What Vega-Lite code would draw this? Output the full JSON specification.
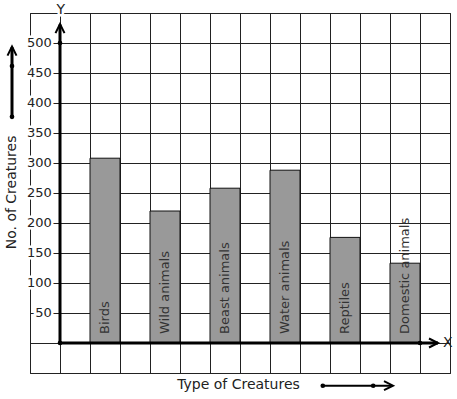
{
  "$schema": "https://vega.github.io/schema/vega-lite/v6.json",
  "width": 420,
  "height": 360,
  "autosize": {"type": "none"},
  "padding": {"left": 30, "top": 13, "right": 7, "bottom": 26},
  "background": "white",
  "config": {
    "view": {"stroke": "#222", "strokeWidth": 1},
    "font": "DejaVu Sans",
    "text": {"font": "DejaVu Sans"}
  },
  "datasets": {
    "creatures": [
      {"creature": "Birds", "count": 308},
      {"creature": "Wild animals", "count": 220},
      {"creature": "Beast animals", "count": 258},
      {"creature": "Water animals", "count": 288},
      {"creature": "Reptiles", "count": 176},
      {"creature": "Domestic animals", "count": 133}
    ],
    "ticks": [
      {"tick": 50}, {"tick": 100}, {"tick": 150}, {"tick": 200}, {"tick": 250},
      {"tick": 300}, {"tick": 350}, {"tick": 400}, {"tick": 450}, {"tick": 500}
    ],
    "one": [{}]
  },
  "layer": [
    {
      "data": {"name": "creatures"},
      "transform": [
        {"window": [{"op": "row_number", "as": "idx"}]},
        {"calculate": "2*datum.idx-1", "as": "xs"},
        {"calculate": "2*datum.idx", "as": "xe"}
      ],
      "mark": {"type": "bar", "fill": "#999999", "stroke": "#111", "strokeWidth": 1},
      "encoding": {
        "x": {
          "field": "xs", "type": "quantitative",
          "scale": {"domain": [-1, 13], "nice": false, "zero": false},
          "axis": {"values": [-1,0,1,2,3,4,5,6,7,8,9,10,11,12,13], "tickCount": 40, "grid": true, "gridColor": "#222", "gridOpacity": 1, "domain": false, "ticks": false, "labels": false, "title": null}
        },
        "x2": {"field": "xe"},
        "y": {
          "field": "count", "type": "quantitative",
          "scale": {"domain": [-50, 550], "nice": false, "zero": false},
          "axis": {"values": [-50,0,50,100,150,200,250,300,350,400,450,500,550], "tickCount": 40, "grid": true, "gridColor": "#222", "gridOpacity": 1, "domain": false, "ticks": false, "labels": false, "title": null}
        },
        "y2": {"datum": 0}
      }
    },
    {
      "data": {"name": "creatures"},
      "transform": [
        {"window": [{"op": "row_number", "as": "idx"}]},
        {"calculate": "2*datum.idx-0.5", "as": "xc"}
      ],
      "mark": {"type": "text", "angle": 270, "align": "left", "baseline": "middle", "fontSize": 13, "color": "#333"},
      "encoding": {
        "x": {"field": "xc", "type": "quantitative"},
        "y": {"datum": 15},
        "text": {"field": "creature"}
      }
    },
    {
      "data": {"name": "one"},
      "mark": {"type": "rule", "color": "black", "strokeWidth": 3},
      "encoding": {"x": {"datum": 0}, "y": {"datum": 0}, "y2": {"datum": 531}}
    },
    {
      "data": {"name": "one"},
      "mark": {"type": "rule", "color": "black", "strokeWidth": 3},
      "encoding": {"x": {"datum": 0}, "x2": {"datum": 12.6}, "y": {"datum": 0}}
    },
    {
      "data": {"name": "one"},
      "mark": {"type": "rule", "color": "black", "strokeWidth": 3},
      "encoding": {"x": {"datum": -1.6}, "y": {"datum": 377}, "y2": {"datum": 493}}
    },
    {
      "data": {"name": "one"},
      "mark": {"type": "rule", "color": "black", "strokeWidth": 2},
      "encoding": {"x": {"datum": 8.76}, "x2": {"datum": 11.05}, "y": {"datum": -71.2}}
    },
    {
      "data": {"name": "one"},
      "mark": {"type": "point", "shape": "M-1,2L0,0L1,2", "size": 81, "filled": false, "color": "black", "strokeWidth": 2, "opacity": 1},
      "encoding": {"x": {"datum": 0}, "y": {"datum": 531.5}}
    },
    {
      "data": {"name": "one"},
      "mark": {"type": "point", "shape": "M-1,2L0,0L1,2", "size": 81, "filled": false, "color": "black", "strokeWidth": 2, "opacity": 1},
      "encoding": {"x": {"datum": -1.6}, "y": {"datum": 494}}
    },
    {
      "data": {"name": "one"},
      "mark": {"type": "point", "shape": "M-2,-1L0,0L-2,1", "size": 81, "filled": false, "color": "black", "strokeWidth": 2, "opacity": 1},
      "encoding": {"x": {"datum": 12.6}, "y": {"datum": 0}}
    },
    {
      "data": {"name": "one"},
      "mark": {"type": "point", "shape": "M-2,-1L0,0L-2,1", "size": 81, "filled": false, "color": "black", "strokeWidth": 2, "opacity": 1},
      "encoding": {"x": {"datum": 11.1}, "y": {"datum": -71.2}}
    },
    {
      "data": {"name": "one"},
      "mark": {"type": "point", "filled": true, "color": "black", "size": 22, "opacity": 1},
      "encoding": {"x": {"datum": 0}, "y": {"datum": 0}}
    },
    {
      "data": {"name": "one"},
      "mark": {"type": "point", "filled": true, "color": "black", "size": 22, "opacity": 1},
      "encoding": {"x": {"datum": 0}, "y": {"datum": 500}}
    },
    {
      "data": {"name": "one"},
      "mark": {"type": "point", "filled": true, "color": "black", "size": 22, "opacity": 1},
      "encoding": {"x": {"datum": 12}, "y": {"datum": 0}}
    },
    {
      "data": {"name": "one"},
      "mark": {"type": "point", "filled": true, "color": "black", "size": 22, "opacity": 1},
      "encoding": {"x": {"datum": -1.6}, "y": {"datum": 377}}
    },
    {
      "data": {"name": "one"},
      "mark": {"type": "point", "filled": true, "color": "black", "size": 22, "opacity": 1},
      "encoding": {"x": {"datum": -1.6}, "y": {"datum": 461.7}}
    },
    {
      "data": {"name": "one"},
      "mark": {"type": "point", "filled": true, "color": "black", "size": 22, "opacity": 1},
      "encoding": {"x": {"datum": 8.76}, "y": {"datum": -71.2}}
    },
    {
      "data": {"name": "one"},
      "mark": {"type": "point", "filled": true, "color": "black", "size": 22, "opacity": 1},
      "encoding": {"x": {"datum": 10.44}, "y": {"datum": -71.2}}
    },
    {
      "data": {"name": "ticks"},
      "mark": {"type": "text", "align": "right", "baseline": "middle", "fontSize": 13, "stroke": "white", "strokeWidth": 5, "fill": "white"},
      "encoding": {"x": {"datum": -0.27}, "y": {"field": "tick", "type": "quantitative"}, "text": {"field": "tick"}}
    },
    {
      "data": {"name": "ticks"},
      "mark": {"type": "text", "align": "right", "baseline": "middle", "fontSize": 13, "color": "#222"},
      "encoding": {"x": {"datum": -0.27}, "y": {"field": "tick", "type": "quantitative"}, "text": {"field": "tick"}}
    },
    {
      "data": {"name": "one"},
      "mark": {"type": "text", "align": "center", "baseline": "middle", "fontSize": 14, "stroke": "white", "strokeWidth": 5, "fill": "white"},
      "encoding": {"x": {"datum": 0.03}, "y": {"datum": 555}, "text": {"value": "Y"}}
    },
    {
      "data": {"name": "one"},
      "mark": {"type": "text", "align": "center", "baseline": "middle", "fontSize": 14, "color": "#222"},
      "encoding": {"x": {"datum": 0.03}, "y": {"datum": 555}, "text": {"value": "Y"}}
    },
    {
      "data": {"name": "one"},
      "mark": {"type": "text", "align": "center", "baseline": "middle", "fontSize": 14, "color": "#222"},
      "encoding": {"x": {"datum": 12.93}, "y": {"datum": 0}, "text": {"value": "X"}}
    },
    {
      "data": {"name": "one"},
      "mark": {"type": "text", "align": "center", "baseline": "middle", "fontSize": 14, "color": "#222", "angle": 270},
      "encoding": {"x": {"datum": -1.6}, "y": {"datum": 251}, "text": {"value": "No. of Creatures"}}
    },
    {
      "data": {"name": "one"},
      "mark": {"type": "text", "align": "center", "baseline": "middle", "fontSize": 14, "color": "#222"},
      "encoding": {"x": {"datum": 5.95}, "y": {"datum": -70}, "text": {"value": "Type of Creatures"}}
    }
  ]
}
